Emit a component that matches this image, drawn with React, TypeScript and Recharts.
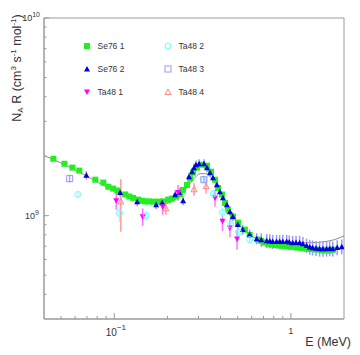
import { ComposedChart, Scatter, Line, XAxis, YAxis, ErrorBar, ReferenceArea, Legend, Label } from 'recharts'

// energies in MeV, rates in cm3 s-1 mol-1
const se76aE = [0.0452, 0.0522, 0.0579, 0.0634, 0.0781, 0.0867, 0.0925, 0.0987, 0.104, 0.1154, 0.1216, 0.128, 0.1367, 0.144, 0.1497, 0.1577, 0.166, 0.177, 0.189, 0.202, 0.2125, 0.224, 0.236, 0.245, 0.258, 0.269, 0.279, 0.294, 0.314, 0.335, 0.353, 0.372, 0.387, 0.407, 0.424, 0.441, 0.47, 0.502, 0.549, 0.585, 0.65, 0.68, 0.711, 0.745, 0.78, 0.82, 0.866, 0.9, 0.948, 1.0, 1.08, 1.15, 1.23, 1.3, 1.4, 1.5, 1.59, 1.65, 1.73]
const se76aR = [1.94e9, 1.83e9, 1.75e9, 1.69e9, 1.52e9, 1.47e9, 1.4e9, 1.37e9, 1.34e9, 1.28e9, 1.25e9, 1.23e9, 1.205e9, 1.19e9, 1.18e9, 1.18e9, 1.177e9, 1.177e9, 1.18e9, 1.205e9, 1.22e9, 1.25e9, 1.28e9, 1.35e9, 1.43e9, 1.54e9, 1.65e9, 1.75e9, 1.81e9, 1.79e9, 1.67e9, 1.52e9, 1.38e9, 1.28e9, 1.16e9, 1.07e9, 0.988e9, 0.922e9, 0.85e9, 0.8e9, 0.757e9, 0.745e9, 0.73e9, 0.72e9, 0.714e9, 0.71e9, 0.706e9, 0.703e9, 0.7e9, 0.695e9, 0.689e9, 0.685e9, 0.681e9, 0.678e9, 0.673e9, 0.668e9, 0.666e9, 0.668e9, 0.673e9]

const se76bE = [0.0695, 0.108, 0.1349, 0.1727, 0.1867, 0.2212, 0.2328, 0.2454, 0.2651, 0.2758, 0.2829, 0.2904, 0.3022, 0.3225, 0.3352, 0.3485, 0.3623, 0.3815, 0.3967, 0.4124, 0.4343, 0.4516, 0.4695, 0.5006, 0.5337, 0.5847, 0.6405, 0.68, 0.7297, 0.76, 0.7894, 0.83, 0.8645, 0.9, 0.9467, 0.98, 1.024, 1.07, 1.121, 1.17, 1.228, 1.28, 1.328, 1.39, 1.455, 1.52, 1.593, 1.66, 1.728, 1.83, 1.941]
const se76bR = [1.6e9, 1.31e9, 1.177e9, 1.137e9, 1.163e9, 1.276e9, 1.31e9, 1.19e9, 1.574e9, 1.667e9, 1.747e9, 1.81e9, 1.83e9, 1.83e9, 1.747e9, 1.649e9, 1.556e9, 1.435e9, 1.322e9, 1.233e9, 1.137e9, 1.048e9, 0.989e9, 0.901e9, 0.85e9, 0.802e9, 0.765e9, 0.755e9, 0.747e9, 0.745e9, 0.739e9, 0.74e9, 0.739e9, 0.74e9, 0.739e9, 0.735e9, 0.73e9, 0.732e9, 0.73e9, 0.72e9, 0.706e9, 0.695e9, 0.689e9, 0.685e9, 0.681e9, 0.68e9, 0.681e9, 0.683e9, 0.681e9, 0.69e9, 0.697e9]
const se76bErr = [
  0.08e9, 0.07e9, 0.06e9, 0.06e9, 0.06e9,
  0.07e9, 0.07e9, 0.06e9, 0.08e9, 0.08e9,
  0.09e9, 0.09e9, 0.1e9, 0.1e9, 0.09e9,
  0.08e9, 0.08e9, 0.07e9, 0.07e9, 0.06e9,
  0.06e9, 0.05e9, 0.05e9, 0.05e9, 0.05e9,
  0.05e9, 0.05e9, 0.06e9, 0.06e9, 0.06e9,
  0.06e9, 0.06e9, 0.06e9, 0.06e9, 0.06e9,
  0.06e9, 0.06e9, 0.06e9, 0.06e9, 0.06e9,
  0.06e9, 0.06e9, 0.06e9, 0.06e9, 0.06e9,
  0.06e9, 0.06e9, 0.06e9, 0.06e9, 0.06e9,
  0.06e9,
]

const ta48aE = [0.1026, 0.1449, 0.188, 0.2297, 0.372, 0.41, 0.452, 0.496]
const ta48aR = [1.19e9, 0.988e9, 1.11e9, 1.31e9, 1.23e9, 0.936e9, 0.867e9, 0.762e9]
const ta48aErr = [0.12e9, 0.1e9, 0.1e9, 0.12e9, 0.12e9, 0.1e9, 0.09e9, 0.09e9]

const ta48bE = [0.0621, 0.107, 0.1516, 0.32, 0.364, 0.41, 0.456, 0.505, 0.585]
const ta48bR = [1.28e9, 1.03e9, 1.0e9, 1.53e9, 1.29e9, 1.04e9, 0.9e9, 0.824e9, 0.757e9]
const ta48bErr = [0.05e9, 0.1e9, 0.05e9, 0.05e9, 0.05e9, 0.05e9, 0.04e9, 0.04e9, 0.03e9]

const ta48cE = [0.0559, 0.322]
const ta48cR = [1.54e9, 1.52e9]
const ta48cErr = [0.07e9, 0.05e9]

const ta48dE = [0.109, 0.196, 0.283, 0.331]
const ta48dR = [1.18e9, 1.09e9, 1.36e9, 1.41e9]
const ta48dErr = [0.35e9, 0.08e9, 0.1e9, 0.12e9]

// fitted rate curve
const fitE = [0.0403, 0.0496, 0.0643, 0.0834, 0.108, 0.14, 0.17, 0.194, 0.2209, 0.2519, 0.2796, 0.306, 0.331, 0.358, 0.3968, 0.452, 0.515, 0.585, 0.667, 0.81, 0.98, 1.28, 1.56, 1.77, 2.0]
const fitR = [2.01e9, 1.85e9, 1.65e9, 1.45e9, 1.29e9, 1.19e9, 1.15e9, 1.15e9, 1.205e9, 1.35e9, 1.52e9, 1.63e9, 1.63e9, 1.54e9, 1.32e9, 1.07e9, 0.89e9, 0.8e9, 0.757e9, 0.73e9, 0.73e9, 0.73e9, 0.739e9, 0.757e9, 0.79e9]

const seriesNames = ['Se76 1', 'Se76 2', 'Ta48 1', 'Ta48 2', 'Ta48 3', 'Ta48 4']

const xTicks = [0.05, 0.06, 0.07, 0.08, 0.09, 0.1, 0.2, 0.3, 0.4, 0.5, 0.6, 0.7, 0.8, 0.9, 1]
const yTicks = [4e8, 5e8, 6e8, 7e8, 8e8, 9e8, 1e9, 2e9, 3e9, 4e9, 5e9, 6e9, 7e9, 8e9, 9e9, 1e10]

const build = (e: number[], r: number[], err?: number[]) =>
  e.map((x, i) => ({ x, y: r[i], err: err ? err[i] : 0 }))

const FONT = '"Liberation Sans", Arial, Helvetica, sans-serif'
const AXIS = '#9a9a9a'
const INK = '#333'

const COLORS = ['#22ee22', '#0000dd', '#ff00ff', '#66ffff', '#9999ff', '#ff8888']

function marker(kind: number, cx: number, cy: number) {
  const c = COLORS[kind]
  switch (kind) {
    case 0:
      return <rect x={cx - 3} y={cy - 3} width={6} height={6} fill={c} />
    case 1:
      return <polygon points={`${cx - 3},${cy + 2.5} ${cx + 3},${cy + 2.5} ${cx},${cy - 3}`} fill={c} />
    case 2:
      return <polygon points={`${cx - 3},${cy - 2.5} ${cx + 3},${cy - 2.5} ${cx},${cy + 3}`} fill={c} />
    case 3:
      return <circle cx={cx} cy={cy} r={3} fill="none" stroke={c} strokeWidth={1} />
    case 4:
      return <rect x={cx - 3} y={cy - 3} width={6} height={6} fill="none" stroke={c} strokeWidth={1} />
    default:
      return <polygon points={`${cx - 3},${cy + 2.5} ${cx + 3},${cy + 2.5} ${cx},${cy - 3}`} fill="none" stroke={c} strokeWidth={1} />
  }
}

const shapeOf = (kind: number) => (p: any) => marker(kind, p.cx, p.cy)

function XTick(props: any) {
  const { x, y, payload } = props
  const v = payload.value
  const major = v === 0.1 || v === 1
  return (
    <g>
      <line x1={x} y1={y} x2={x} y2={y - (major ? 6 : 3)} stroke={AXIS} />
      {v === 0.1 && (
        <text x={x - 8.5} y={336} fontSize={10} fill={INK} fontFamily={FONT}>
          10<tspan dy={-6} fontSize={8}>−1</tspan>
        </text>
      )}
      {v === 1 && (
        <text x={x} y={334} fontSize={8.5} fill={INK} fontFamily={FONT} textAnchor="middle">1</text>
      )}
    </g>
  )
}

function YTick(props: any) {
  const { x, y, payload } = props
  const v = payload.value
  const major = v === 1e9 || v === 1e10
  return (
    <g>
      <line x1={x} y1={y} x2={x + (major ? 5 : 2.5)} y2={y} stroke={AXIS} />
      {major && (
        <text x={v === 1e9 ? 39 : 40} y={y + 3} fontSize={9} fill={INK} fontFamily={FONT} textAnchor="end">
          10<tspan dy={-4} fontSize={7}>{v === 1e9 ? '9' : '10'}</tspan>
        </text>
      )}
    </g>
  )
}

function renderLegend() {
  return (
    <svg width={190} height={66} style={{ display: 'block' }}>
      {seriesNames.map((name, i) => {
        const col = Math.floor(i / 3)
        const row = i % 3
        const mx = col === 0 ? 7 : 88
        const my = 8 + row * 23
        return (
          <g key={name}>
            {marker(i, mx, my)}
            <text x={mx + 10.5} y={my + 3} fontSize={8.5} fill={INK} fontFamily={FONT}>{name}</text>
          </g>
        )
      })}
    </svg>
  )
}

function YTitle() {
  return (
    <text transform="translate(21,68) rotate(-90)" textAnchor="middle" fontSize={12.5} fill={INK} fontFamily={FONT}>
      N<tspan fontSize={8} dy={2}>A</tspan>
      <tspan dy={-2}> R (cm</tspan>
      <tspan fontSize={8} dy={-5}>3</tspan>
      <tspan dy={5}> s</tspan>
      <tspan fontSize={8} dy={-5}>-1</tspan>
      <tspan dy={5}> mol</tspan>
      <tspan fontSize={8} dy={-5}>-1</tspan>
      <tspan dy={5}>)</tspan>
    </text>
  )
}

function XTitle() {
  return (
    <text x={351} y={345.5} textAnchor="end" fontSize={12.5} fill={INK} fontFamily={FONT}>E (MeV)</text>
  )
}

export default function App() {
  return (
    <div style={{ position: 'absolute', left: 0, top: 0, background: '#fff' }}>
      <ComposedChart width={360} height={355} margin={{ top: 18, right: 16, bottom: 0, left: 0 }}>
        <XAxis
          dataKey="x"
          type="number"
          scale="log"
          domain={[0.04, 2]}
          allowDataOverflow
          ticks={xTicks}
          interval={0}
          height={36}
          tickSize={0}
          tickMargin={0}
          tickLine={false}
          stroke={AXIS}
          tick={<XTick />}
        >
          <Label content={<XTitle />} />
        </XAxis>
        <YAxis
          type="number"
          scale="log"
          domain={[3e8, 1e10]}
          allowDataOverflow
          ticks={yTicks}
          interval={0}
          width={44}
          tickSize={0}
          tickMargin={0}
          tickLine={false}
          stroke={AXIS}
          tick={<YTick />}
        >
          <Label content={<YTitle />} />
        </YAxis>
        <ReferenceArea x1={0.04} x2={2} y1={3e8} y2={1e10} fill="none" stroke={AXIS} />
        <Line data={build(fitE, fitR)} dataKey="y" type="monotone" dot={false} stroke="#8c8c8c" strokeWidth={1} isAnimationActive={false} />
        <Scatter name={seriesNames[0]} data={build(se76aE, se76aR)} dataKey="y" shape={shapeOf(0)} isAnimationActive={false} />
        <Scatter name={seriesNames[1]} data={build(se76bE, se76bR, se76bErr)} dataKey="y" shape={shapeOf(1)} isAnimationActive={false}>
          <ErrorBar dataKey="err" direction="y" width={0} stroke="#9999ff" />
        </Scatter>
        <Scatter name={seriesNames[2]} data={build(ta48aE, ta48aR, ta48aErr)} dataKey="y" shape={shapeOf(2)} isAnimationActive={false}>
          <ErrorBar dataKey="err" direction="y" width={0} stroke="#ff77ff" />
        </Scatter>
        <Scatter name={seriesNames[3]} data={build(ta48bE, ta48bR, ta48bErr)} dataKey="y" shape={shapeOf(3)} isAnimationActive={false}>
          <ErrorBar dataKey="err" direction="y" width={0} stroke="#99ffff" />
        </Scatter>
        <Scatter name={seriesNames[4]} data={build(ta48cE, ta48cR, ta48cErr)} dataKey="y" shape={shapeOf(4)} isAnimationActive={false}>
          <ErrorBar dataKey="err" direction="y" width={0} stroke="#aaaaff" />
        </Scatter>
        <Scatter name={seriesNames[5]} data={build(ta48dE, ta48dR, ta48dErr)} dataKey="y" shape={shapeOf(5)} isAnimationActive={false}>
          <ErrorBar dataKey="err" direction="y" width={0} stroke="#ff9999" />
        </Scatter>
        <Legend
          layout="vertical"
          verticalAlign="middle"
          align="center"
          content={renderLegend}
          wrapperStyle={{ position: 'absolute', left: 80, top: 38, width: 190, height: 66 }}
        />
      </ComposedChart>
    </div>
  )
}
